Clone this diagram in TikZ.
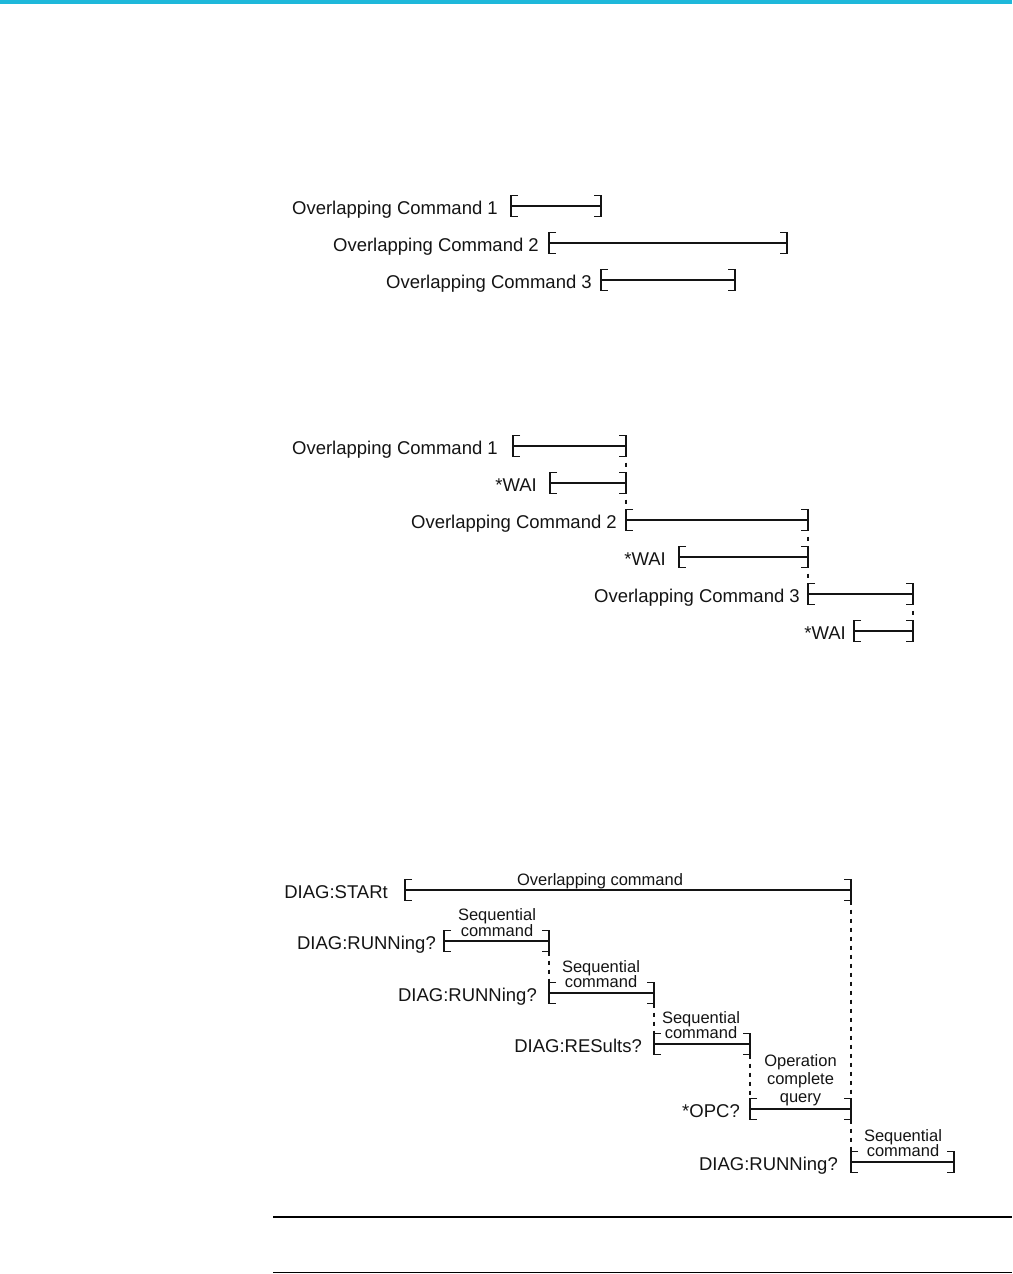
\documentclass[tikz,border=0pt]{standalone}
\usepackage{fontspec}
\setmainfont{Liberation Sans}
\usetikzlibrary{calc}
\definecolor{topbar}{RGB}{30,184,218}
\definecolor{ink}{RGB}{20,20,20}
\tikzset{
  bar/.style={draw=ink, line width=1.6pt},
  cmd/.style={anchor=base east, inner sep=0pt, font=\fontsize{18.5}{20}\selectfont, text=ink},
  sublbl/.style={anchor=south, inner sep=0pt, align=center, font=\fontsize{16.5}{15.5}\selectfont, text=ink},
  sublblwide/.style={anchor=south, inner sep=0pt, align=center, font=\fontsize{16.5}{18}\selectfont, text=ink},
  sublblone/.style={anchor=base, inner sep=0pt, font=\fontsize{16.5}{18}\selectfont, text=ink},
  waitlink/.style={draw=ink, line width=1.3pt, dash pattern=on 4pt off 12pt, dash phase=10pt},
  seqlink/.style={draw=ink, line width=1.3pt, dash pattern=on 4.5pt off 4.5pt},
  rulel/.style={draw=black, line width=1.2pt}
}
\newcommand{\Bkt}[4]{% name, left x, right x, y
  \coordinate (#1w) at (#2,#4);
  \coordinate (#1e) at (#3,#4);
  \coordinate (#1wt) at (#2,#4-10.5);
  \coordinate (#1wb) at (#2,#4+10.5);
  \coordinate (#1et) at (#3,#4-10.5);
  \coordinate (#1eb) at (#3,#4+10.5);
  \draw[bar] ($(#1wt)+(7,0)$) -- (#1wt) -- (#1wb) -- ($(#1wb)+(7,0)$);
  \draw[bar] ($(#1et)+(-7,0)$) -- (#1et) -- (#1eb) -- ($(#1eb)+(-7,0)$);
  \draw[bar] (#1w) -- (#1e);
}
\begin{document}
\begin{tikzpicture}[x=1pt,y=-1pt]
\useasboundingbox (0,0) rectangle (1012,1274);
\fill[topbar] (0,0) rectangle (1012,4);

% ---------- Diagram 1 ----------
\Bkt{a1}{511}{601}{206}
\Bkt{a2}{549}{787}{243}
\Bkt{a3}{601}{735}{280}
\node[cmd] (ta1) at (498,214.5) {Overlapping Command 1};
\node[cmd] (ta2) at (539,251.5) {Overlapping Command 2};
\node[cmd] (ta3) at (592,288.5) {Overlapping Command 3};

% ---------- Diagram 2 ----------
\Bkt{b1}{513}{626}{446}
\Bkt{b2}{550}{626}{483}
\Bkt{b3}{626}{808}{520}
\Bkt{b4}{679}{808}{557}
\Bkt{b5}{808}{913}{594}
\Bkt{b6}{854}{913}{631}
\node[cmd] (tb1) at (498,454.5) {Overlapping Command 1};
\node[cmd] (tb2) at (537,491.5) {*WAI};
\node[cmd] (tb3) at (617,528.5) {Overlapping Command 2};
\node[cmd] (tb4) at (666,565.5) {*WAI};
\node[cmd] (tb5) at (800,602.5) {Overlapping Command 3};
\node[cmd] (tb6) at (846,639.5) {*WAI};
\draw[waitlink] (b1eb) -- (b2et);
\draw[waitlink] (b2eb) -- (b3wt);
\draw[waitlink] (b3eb) -- (b4et);
\draw[waitlink] (b4eb) -- (b5wt);
\draw[waitlink] (b5eb) -- (b6et);

% ---------- Diagram 3 ----------
\Bkt{c1}{405}{851}{890}
\Bkt{c2}{444}{549}{941}
\Bkt{c3}{549}{654}{993}
\Bkt{c4}{654}{750}{1044}
\Bkt{c5}{750}{851}{1109}
\Bkt{c6}{851}{954}{1162}
\node[cmd] (tc1) at (388,898.5) {DIAG:STARt};
\node[cmd] (tc2) at (436,949.5) {DIAG:RUNNing?};
\node[cmd] (tc3) at (537,1001.5) {DIAG:RUNNing?};
\node[cmd] (tc4) at (642,1052.5) {DIAG:RESults?};
\node[cmd] (tc5) at (740,1117.5) {*OPC?};
\node[cmd] (tc6) at (838,1170.5) {DIAG:RUNNing?};
\node[sublblone] (lc1) at (600,885) {Overlapping command};
\node[sublbl] (lc2) at (497,936.5) {Sequential\\command};
\node[sublbl] (lc3) at (601,988) {Sequential\\command};
\node[sublbl] (lc4) at (701,1039) {Sequential\\command};
\node[sublblwide] (lc5) at (800.5,1106) {Operation\\complete\\query};
\node[sublbl] (lc6) at (903,1157) {Sequential\\command};
\draw[seqlink] (c1eb) -- (c5et);
\draw[seqlink] (c5eb) -- (c6wt);
\draw[seqlink] (c2eb) -- (c3wt);
\draw[seqlink] (c3eb) -- (c4wt);
\draw[seqlink] (c4eb) -- (c5wt);

% ---------- rules ----------
\coordinate (r1a) at (273,1217);
\coordinate (r1b) at (1012,1217);
\coordinate (r2a) at (273,1272.5);
\coordinate (r2b) at (1012,1272.5);
\draw[rulel] (r1a) -- (r1b);
\draw[rulel] (r2a) -- (r2b);
\end{tikzpicture}
\end{document}
